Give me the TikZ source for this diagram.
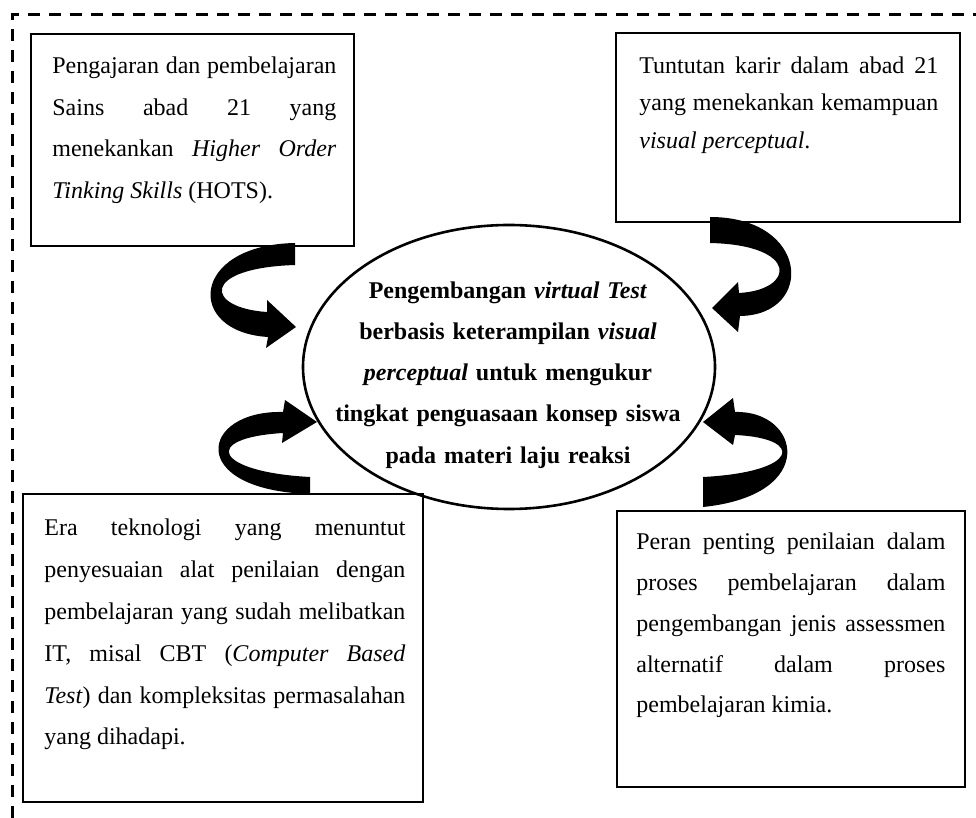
\documentclass[tikz,border=0pt]{standalone}
\usepackage{fontspec}
\setmainfont{Liberation Serif}
\usetikzlibrary{shapes.geometric}
\begin{document}
\begin{tikzpicture}[x=0.5pt,y=-0.5pt,
  box/.style={draw, line width=1pt, inner sep=0pt, rectangle},
  boxtext/.style={anchor=base west, inner sep=0pt, align=justify},
  bigarrow/.style={fill=black, draw=none},
  frameline/.style={line width=1.5pt, dash pattern=on 6pt off 4.5pt}]
\useasboundingbox (0,0) rectangle (976,818);
% dashed frame
\coordinate (fbl) at (12,818);
\coordinate (ftl) at (12,15);
\coordinate (ftr) at (976,15);
\draw[frameline] (fbl) -- (ftl) -- (ftr);
% boxes
\node[box, minimum width=161.5pt, minimum height=106pt] (b1) at (192.5,140) {};
\node[box, minimum width=172pt, minimum height=94.5pt] (b2) at (788,127.5) {};
\node[box, minimum width=200pt, minimum height=154pt] (b3) at (223,648) {};
\node[box, minimum width=174pt, minimum height=138pt] (b4) at (791,649) {};
% ellipse
\node[draw, ellipse, line width=1.3pt, inner sep=0pt, minimum width=206pt, minimum height=142pt] (el) at (509,367) {};
% texts
\node[boxtext, text width=142pt, font=\fontsize{12pt}{20.75pt}\selectfont] (t1) at (52,74)
 {Pengajaran dan pembelajaran\linebreak Sains abad 21 yang\linebreak menekankan \textit{Higher Order}\linebreak \textit{Tinking Skills} (HOTS).};
\node[boxtext, text width=149.5pt, font=\fontsize{12pt}{18.75pt}\selectfont] (t2) at (639,73.3)
 {Tuntutan karir dalam abad 21\linebreak yang menekankan kemampuan\linebreak \textit{visual perceptual}.};
\node[boxtext, text width=180.5pt, font=\fontsize{12pt}{20.9pt}\selectfont] (t3) at (44,536)
 {Era teknologi yang menuntut\linebreak penyesuaian alat penilaian dengan\linebreak pembelajaran yang sudah melibatkan\linebreak IT, misal CBT (\textit{Computer Based}\linebreak \textit{Test}) dan kompleksitas permasalahan\linebreak yang dihadapi.};
\node[boxtext, text width=154.5pt, font=\fontsize{12pt}{20.35pt}\selectfont] (t4) at (636,550)
 {Peran penting penilaian dalam\linebreak proses pembelajaran dalam\linebreak pengembangan jenis assessmen\linebreak alternatif dalam proses\linebreak pembelajaran kimia.};
\node[anchor=base, inner sep=0pt, align=center, text width=200pt, font=\fontsize{12pt}{20.6pt}\selectfont\bfseries] (te) at (508,298.3)
 {Pengembangan \textit{virtual Test}\\ berbasis keterampilan \textit{visual}\\ \textit{perceptual} untuk mengukur\\ tingkat penguasaan konsep siswa\\ pada materi laju reaksi};
% curved block arrows
\fill[bigarrow] (295,243) .. controls (190,245) and (185,332) .. (268,337) -- (266,348) -- (296,327) -- (267,300) -- (267,312) .. controls (205,308) and (200,268) .. (295,265) -- cycle;
\fill[bigarrow] (710,217) .. controls (810,217) and (815,315) .. (740,316) -- (738,332) -- (712,308) -- (738,282) -- (739,293) .. controls (795,290) and (800,245) .. (710,243) -- cycle;
\fill[bigarrow] (283,412) .. controls (200,410) and (185,490) .. (310,494) -- (310,477) .. controls (215,472) and (200,438) .. (283,433) -- (282,443) -- (317,422) -- (285,400) -- cycle;
\fill[bigarrow] (735,412) .. controls (800,410) and (820,495) .. (703,507) -- (703,477) .. controls (800,472) and (805,438) .. (735,435) -- (733,445) -- (703,422) -- (733,398) -- cycle;
\end{tikzpicture}
\end{document}
